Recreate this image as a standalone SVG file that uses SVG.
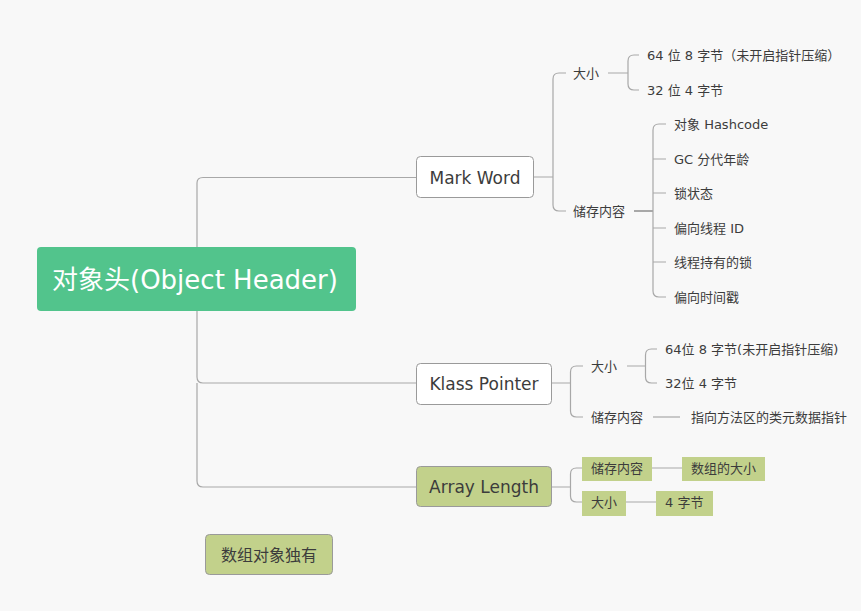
<svg xmlns="http://www.w3.org/2000/svg" width="861" height="611" viewBox="0 0 861 611">
<style>
text{font-family:"DejaVu Sans","Noto Sans CJK SC",sans-serif;fill:#3c3c3c;dominant-baseline:central}
.s{font-size:13px}
.m{font-size:17px}
.ln{fill:none;stroke:#a8a8a8;stroke-width:1.2}
.box{fill:#ffffff;stroke:#9a9a9a;stroke-width:1}
.gbox{fill:#c2d18b;stroke:#9a9a9a;stroke-width:1}
.tag{fill:#c2d18b}
</style>
<rect width="861" height="611" fill="#f8f8f8"/>
<g id="connectors">
<path class="ln" d="M197 247 V183 Q197 177.5 203 177.5 H416"/>
<path class="ln" d="M197 311 V377 Q197 383 203 383 H416"/>
<path class="ln" d="M197 383 V481 Q197 487 203 487 H416"/>
<path class="ln" d="M534 177 H553 M566 73 H559 Q553 73 553 79 V205 Q553 211 559 211 H566"/>
<path class="ln" d="M608 73 H628 M639 55 H634 Q628 55 628 61 V84 Q628 90 634 90 H639"/>
<path class="ln" d="M634 211 H653" style="stroke-width:2"/>
<path class="ln" d="M666 124 H659 Q653 124 653 130 V291 Q653 297 659 297 H666 M653 159 H666 M653 193 H666 M653 228 H666 M653 262 H666"/>
<path class="ln" d="M552 383 H570.5 M583 366 H576.5 Q570.5 366 570.5 372 V411 Q570.5 417 576.5 417 H583"/>
<path class="ln" d="M627 366 H645.5 M657 349 H651.5 Q645.5 349 645.5 355 V377 Q645.5 383 651.5 383 H657"/>
<path class="ln" d="M653 417 H680"/>
<path class="ln" d="M552 487 H570.5 M582 468 H576.5 Q570.5 468 570.5 474 V496 Q570.5 502 576.5 502 H582"/>
<path class="ln" d="M652 468 H682 M626 502 H656"/>
</g>
<g id="root">
<rect x="37" y="247" width="319" height="64" rx="4" fill="#52c48c"/>
<text x="52" y="280" style="font-size:26px;fill:#ffffff">对象头(Object Header)</text>
</g>
<g id="mark-word">
<rect class="box" x="416.5" y="156.5" width="117" height="41" rx="4"/>
<text class="m" x="475" y="177.5" text-anchor="middle">Mark Word</text>
</g>
<g id="mw-size"><text class="s" x="573" y="73">大小</text></g>
<g id="mw-size-64"><text class="s" x="647" y="55">64 位 8 字节（未开启指针压缩）</text></g>
<g id="mw-size-32"><text class="s" x="647" y="90">32 位 4 字节</text></g>
<g id="mw-content"><text class="s" x="573" y="211">储存内容</text></g>
<g id="mw-c1"><text class="s" x="674" y="124">对象 Hashcode</text></g>
<g id="mw-c2"><text class="s" x="674" y="159">GC 分代年龄</text></g>
<g id="mw-c3"><text class="s" x="674" y="193">锁状态</text></g>
<g id="mw-c4"><text class="s" x="674" y="228">偏向线程 ID</text></g>
<g id="mw-c5"><text class="s" x="674" y="262">线程持有的锁</text></g>
<g id="mw-c6"><text class="s" x="674" y="297">偏向时间戳</text></g>
<g id="klass-pointer">
<rect class="box" x="416.5" y="363.5" width="135" height="41" rx="4"/>
<text class="m" x="484" y="384" text-anchor="middle">Klass Pointer</text>
</g>
<g id="kp-size"><text class="s" x="591" y="366">大小</text></g>
<g id="kp-size-64"><text class="s" x="665" y="349">64位 8 字节(未开启指针压缩)</text></g>
<g id="kp-size-32"><text class="s" x="665" y="383">32位 4 字节</text></g>
<g id="kp-content"><text class="s" x="591" y="417">储存内容</text></g>
<g id="kp-c1"><text class="s" x="691" y="417">指向方法区的类元数据指针</text></g>
<g id="array-length">
<rect class="gbox" x="416.5" y="466.5" width="135" height="40" rx="4"/>
<text class="m" x="484" y="487" text-anchor="middle">Array Length</text>
</g>
<g id="al-content">
<rect class="tag" x="582" y="457" width="70" height="24"/>
<text class="s" x="591" y="468">储存内容</text>
</g>
<g id="al-content-v">
<rect class="tag" x="682" y="457" width="83" height="24"/>
<text class="s" x="691" y="468">数组的大小</text>
</g>
<g id="al-size">
<rect class="tag" x="582" y="491" width="44" height="25"/>
<text class="s" x="591" y="502">大小</text>
</g>
<g id="al-size-v">
<rect class="tag" x="656" y="491" width="57" height="25"/>
<text class="s" x="665" y="502">4 字节</text>
</g>
<g id="note">
<rect class="gbox" x="205.5" y="534.5" width="127" height="40" rx="4"/>
<text x="269" y="555" text-anchor="middle" style="font-size:16px">数组对象独有</text>
</g>
</svg>
